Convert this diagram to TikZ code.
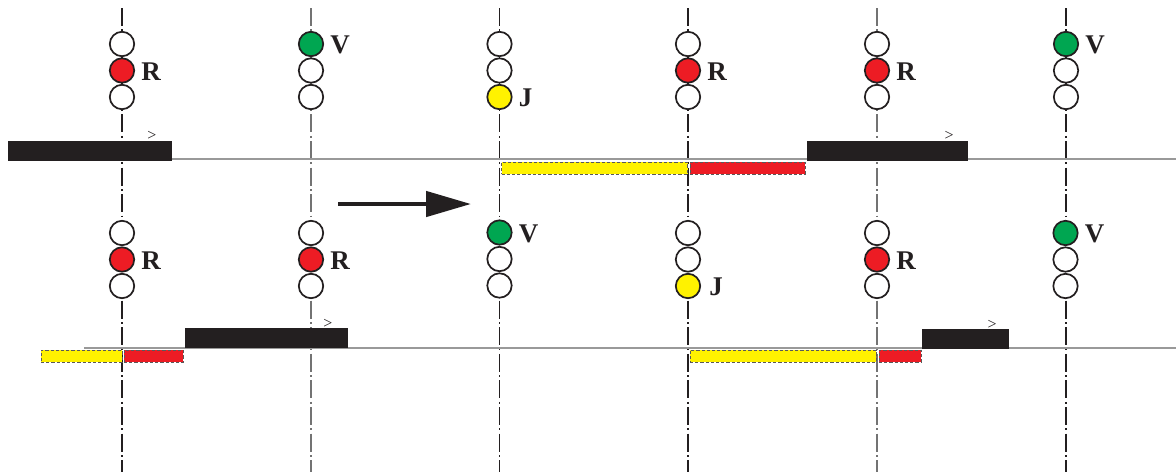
\documentclass[tikz,border=0pt]{standalone}
\usepackage{xcolor}
\usepackage{fontspec}
\setmainfont{Liberation Serif}
\usetikzlibrary{positioning,arrows.meta}
\definecolor{lampred}{HTML}{ED1C24}
\definecolor{lampgreen}{HTML}{00A651}
\definecolor{lampyellow}{HTML}{FFF200}
\definecolor{ink}{HTML}{231F20}
\tikzset{
	lamp/.style={circle,draw=ink,line width=0.85pt,fill=#1,minimum size=12.2pt,inner sep=0pt,outer sep=0pt},
	aspect/.style={font=\bfseries\fontsize{13.5}{14}\selectfont,text=ink,inner sep=0pt,yshift=-0.5pt,right=3.4pt of #1},
	axis/.style={line width=0.55pt,draw=#1,dash pattern=on 9pt off 1.7pt on 0.9pt off 1.7pt},
	track/.style={line width=1.1pt,draw=black!40},
	train/.style={fill=ink,inner sep=0pt,outer sep=0pt,minimum height=#1},
	zone/.style={fill=#1,draw=black!65,line width=0.4pt,dash pattern=on 1.6pt off 1pt,inner sep=0pt,outer sep=0pt,minimum height=6pt},
	chevron/.style={font=\fontsize{8}{8}\selectfont,text=ink,inner sep=0pt},
	runarrow/.style={draw=ink,line width=2.3pt,-{Triangle[length=22.5pt,width=12.5pt]}}
}
% one signal: name, x, y of the top lamp, the three lamp colours
\newcommand{\signal}[6]{
	\node[lamp=#4] (#1a) at (#2,#3) {};
	\node[lamp=#5] (#1b) at (#2,#3+26.5) {};
	\node[lamp=#6] (#1c) at (#2,#3+53) {};
}
\begin{document}
\begin{tikzpicture}[x=0.5pt,y=-0.5pt]
	\useasboundingbox (0,0) rectangle (1176,472);
	\fill[white] (0,0) rectangle (1176,472);
	% axes
	\coordinate (axisAt) at (122,8);
	\coordinate (axisAb) at (122,472);
	\coordinate (axisBt) at (311,8);
	\coordinate (axisBb) at (311,472);
	\coordinate (axisCt) at (499.5,8);
	\coordinate (axisCb) at (499.5,472);
	\coordinate (axisDt) at (688,8);
	\coordinate (axisDb) at (688,472);
	\coordinate (axisEt) at (877,8);
	\coordinate (axisEb) at (877,472);
	\coordinate (axisFt) at (1066,8);
	\coordinate (axisFb) at (1066,472);
	\draw[axis=ink] (axisAt) -- (axisAb);
	\draw[axis=black!55] (axisBt) -- (axisBb);
	\draw[axis=ink] (axisCt) -- (axisCb);
	\draw[axis=ink] (axisDt) -- (axisDb);
	\draw[axis=black!55] (axisEt) -- (axisEb);
	\draw[axis=ink] (axisFt) -- (axisFb);
	% tracks
	\coordinate (trackAw) at (88,159);
	\coordinate (trackAe) at (1176,159);
	\coordinate (trackBw) at (84,348);
	\coordinate (trackBe) at (1176,348);
	\draw[track] (trackAw) -- (trackAe);
	\draw[track] (trackBw) -- (trackBe);
	% block sections
	\node[train=9.8pt,minimum width=82pt] (trainA) at (90,150.8) {};
	\node[train=9.8pt,minimum width=80.5pt] (trainB) at (887.5,150.8) {};
	\node[train=10.2pt,minimum width=81.5pt] (trainC) at (266.5,338.2) {};
	\node[train=9.8pt,minimum width=43.5pt] (trainD) at (965.5,338.8) {};
	\node[chevron] (markA) at (152,136) {>};
	\node[chevron] (markB) at (949,136) {>};
	\node[chevron] (markC) at (328,323.5) {>};
	\node[chevron] (markD) at (992,324.5) {>};
	% protected zones
	\node[zone=lampyellow,minimum width=93pt] (zoneAy) at (594.5,168) {};
	\node[zone=lampred,minimum width=57.5pt] (zoneAr) at (747.5,168) {};
	\node[zone=lampyellow,minimum width=40.5pt] (zoneBy) at (81.5,356) {};
	\node[zone=lampred,minimum width=29.5pt] (zoneBr) at (153.5,356) {};
	\node[zone=lampyellow,minimum width=93pt] (zoneCy) at (783,356) {};
	\node[zone=lampred,minimum width=21pt] (zoneCr) at (900,356) {};
	% upper signals
	\signal{sigA}{122}{44}{white}{lampred}{white}
	\signal{sigB}{311}{44}{lampgreen}{white}{white}
	\signal{sigC}{499.5}{44}{white}{white}{lampyellow}
	\signal{sigD}{688}{44}{white}{lampred}{white}
	\signal{sigE}{877}{44}{white}{lampred}{white}
	\signal{sigF}{1066}{44}{lampgreen}{white}{white}
	\node[aspect=sigAb] (asA) {R};
	\node[aspect=sigBa] (asB) {V};
	\node[aspect=sigCc] (asC) {J};
	\node[aspect=sigDb] (asD) {R};
	\node[aspect=sigEb] (asE) {R};
	\node[aspect=sigFa] (asF) {V};
	% lower signals
	\signal{sigG}{122}{233}{white}{lampred}{white}
	\signal{sigH}{311}{233}{white}{lampred}{white}
	\signal{sigI}{499.5}{232.5}{lampgreen}{white}{white}
	\signal{sigJ}{688}{233}{white}{white}{lampyellow}
	\signal{sigK}{877}{233}{white}{lampred}{white}
	\signal{sigL}{1065.5}{233}{lampgreen}{white}{white}
	\node[aspect=sigGb] (asG) {R};
	\node[aspect=sigHb] (asH) {R};
	\node[aspect=sigIa] (asI) {V};
	\node[aspect=sigJc,xshift=1pt] (asJ) {J};
	\node[aspect=sigKb] (asK) {R};
	\node[aspect=sigLa] (asL) {V};
	% direction of travel
	\coordinate (runA) at (338,204);
	\coordinate (runB) at (471,204);
	\draw[runarrow] (runA) -- (runB);
\end{tikzpicture}
\end{document}
